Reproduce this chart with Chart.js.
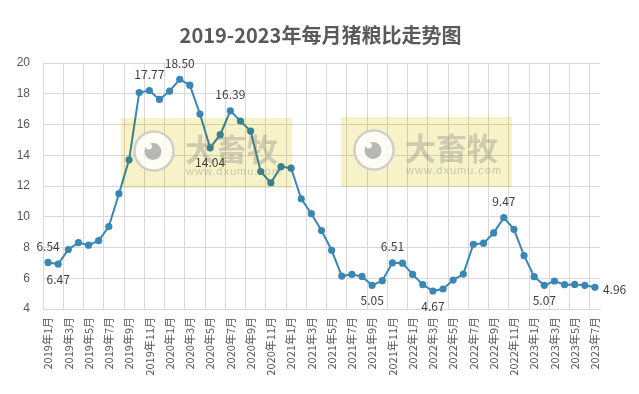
<!DOCTYPE html>
<html>
<head>
<meta charset="utf-8">
<script src="https://cdn.jsdelivr.net/npm/chart.js@4.4.0/dist/chart.umd.min.js"></script>
<style>
  html, body { margin: 0; padding: 0; background: #fff; }
  canvas { display: block; }
</style>
</head>
<body>
<canvas id="chart-pgr" width="639" height="394"></canvas>
<script>
// 月份（2019年1月 ~ 2023年7月）
const months = [
  '2019年1月','2019年2月','2019年3月','2019年4月','2019年5月','2019年6月','2019年7月','2019年8月','2019年9月','2019年10月','2019年11月','2019年12月',
  '2020年1月','2020年2月','2020年3月','2020年4月','2020年5月','2020年6月','2020年7月','2020年8月','2020年9月','2020年10月','2020年11月','2020年12月',
  '2021年1月','2021年2月','2021年3月','2021年4月','2021年5月','2021年6月','2021年7月','2021年8月','2021年9月','2021年10月','2021年11月','2021年12月',
  '2022年1月','2022年2月','2022年3月','2022年4月','2022年5月','2022年6月','2022年7月','2022年8月','2022年9月','2022年10月','2022年11月','2022年12月',
  '2023年1月','2023年2月','2023年3月','2023年4月','2023年5月','2023年6月','2023年7月'
];

// 猪粮比（按图中点位读取）
const ratio = [
  7.03, 6.92, 7.87, 8.32, 8.15, 8.45, 9.36, 11.50, 13.70, 18.08, 18.21, 17.63,
  18.17, 18.94, 18.56, 16.68, 14.48, 15.34, 16.89, 16.22, 15.57, 12.94, 12.21, 13.26,
  13.16, 11.17, 10.20, 9.10, 7.82, 6.14, 6.25, 6.12, 5.54, 5.84, 7.00, 6.98,
  6.25, 5.58, 5.17, 5.30, 5.88, 6.27, 8.21, 8.28, 8.95, 9.94, 9.18, 7.48,
  6.10, 5.54, 5.82, 5.58, 5.60, 5.54, 5.41
];

const yTicks = [4, 6, 8, 10, 12, 14, 16, 18, 20];

// 数据标签
const labelIdx  = [0, 1, 10, 13, 16, 18, 32, 34, 38, 45, 49, 54];
const labelText = ['6.54', '6.47', '17.77', '18.50', '14.04', '16.39', '5.05', '6.51', '4.67', '9.47', '5.07', '4.96'];
const labelPos  = ['above', 'below', 'above', 'above', 'below', 'above', 'below', 'above', 'below', 'above', 'below', 'right'];

const TITLE = '2019-2023年每月猪粮比走势图';

const COLORS = {
  line: '#3a87b5',
  grid: '#d9d9d9',
  text: '#595959',
  label: '#404040',
};

const CJK = '"Noto Sans CJK SC", "Noto Sans", sans-serif';

// 标题：按整张画布居中
const titlePlugin = {
  id: 'pgrTitle',
  beforeDraw(chart) {
    const ctx = chart.ctx;
    ctx.save();
    ctx.fillStyle = COLORS.text;
    ctx.font = 'bold 20px ' + CJK;
    ctx.textAlign = 'center';
    ctx.textBaseline = 'middle';
    ctx.fillText(TITLE, chart.width / 2 + 1, 35);
    ctx.restore();
  },
};

// 水印 + 数据标签
const overlayPlugin = {
  id: 'overlay',
  afterDatasetsDraw(chart) {
    const ctx = chart.ctx;
    const marks = [{ x: 121, y: 118 }, { x: 341, y: 117 }];
    ctx.save();
    marks.forEach(m => {
      ctx.save();
      ctx.globalCompositeOperation = 'multiply';
      ctx.fillStyle = 'rgb(247,242,200)';
      ctx.fillRect(m.x, m.y, 171, 70);
      ctx.restore();

      const cx = m.x + 33, cy = m.y + 33;
      ctx.beginPath();
      ctx.arc(cx, cy, 19.5, 0, Math.PI * 2);
      ctx.fillStyle = 'rgba(255,255,255,0.8)';
      ctx.fill();
      ctx.lineWidth = 2.5;
      ctx.strokeStyle = 'rgba(200,200,200,0.85)';
      ctx.stroke();
      ctx.beginPath();
      ctx.arc(cx - 1, cy + 0.5, 8.5, 0, Math.PI * 2);
      ctx.fillStyle = 'rgba(175,175,175,0.9)';
      ctx.fill();
      ctx.beginPath();
      ctx.arc(cx - 5, cy - 4.5, 3, 0, Math.PI * 2);
      ctx.fillStyle = 'rgba(255,255,255,0.9)';
      ctx.fill();

      ctx.fillStyle = 'rgba(120,120,120,0.32)';
      ctx.textAlign = 'left';
      ctx.textBaseline = 'middle';
      ctx.font = 'bold 31px ' + CJK;
      ctx.fillText('大畜牧', m.x + 64, m.y + 31);
      ctx.fillStyle = 'rgba(130,130,130,0.38)';
      ctx.font = '11px "Liberation Sans", sans-serif';
      ctx.letterSpacing = '1px';
      ctx.fillText('www.dxumu.com', m.x + 65, m.y + 54);
      ctx.letterSpacing = '0px';
    });

    const meta = chart.getDatasetMeta(0);
    ctx.fillStyle = COLORS.label;
    ctx.font = '12px ' + CJK;
    ctx.textBaseline = 'middle';
    labelIdx.forEach((idx, k) => {
      const pt = meta.data[idx];
      const pos = labelPos[k];
      if (pos === 'right') {
        ctx.textAlign = 'left';
        ctx.fillText(labelText[k], pt.x + 8, pt.y + 2);
      } else {
        ctx.textAlign = 'center';
        ctx.fillText(labelText[k], pt.x, pos === 'above' ? pt.y - 16 : pt.y + 15);
      }
    });
    ctx.restore();
  },
};

new Chart(document.getElementById('chart-pgr'), {
  type: 'line',
  data: {
    labels: months,
    datasets: [{
      label: '猪粮比',
      data: ratio,
      borderColor: COLORS.line,
      backgroundColor: COLORS.line,
      borderWidth: 2,
      pointRadius: 3.6,
      pointBorderWidth: 0,
      pointBackgroundColor: COLORS.line,
      tension: 0,
    }],
  },
  options: {
    responsive: false,
    animation: false,
    layout: { padding: { left: 0, right: 39, top: 63, bottom: 0 } },
    plugins: {
      legend: { display: false },
      tooltip: { enabled: false },
      title: { display: false },
    },
    scales: {
      x: {
        offset: true,
        grid: {
          offset: true,
          drawTicks: false,
          color: (c) => (c.index % 2 === 0 ? COLORS.grid : 'rgba(0,0,0,0)'),
        },
        border: { color: COLORS.grid },
        ticks: {
          autoSkip: false,
          minRotation: 90,
          maxRotation: 90,
          padding: 8,
          color: COLORS.text,
          font: { family: CJK, size: 11 },
          callback: function (val, i) { return i % 2 === 0 ? this.getLabelForValue(val) : ''; },
        },
        afterFit: (s) => { s.height = 85; },
      },
      y: {
        min: 4,
        max: 20,
        afterBuildTicks: (s) => { s.ticks = yTicks.map(v => ({ value: v })); },
        grid: { color: COLORS.grid, drawTicks: false },
        border: { color: COLORS.grid },
        ticks: {
          padding: 13,
          color: COLORS.text,
          font: { family: '"Liberation Sans", sans-serif', size: 12 },
        },
        afterFit: (s) => { s.width = 43; },
      },
    },
  },
  plugins: [titlePlugin, overlayPlugin],
});
</script>
</body>
</html>
